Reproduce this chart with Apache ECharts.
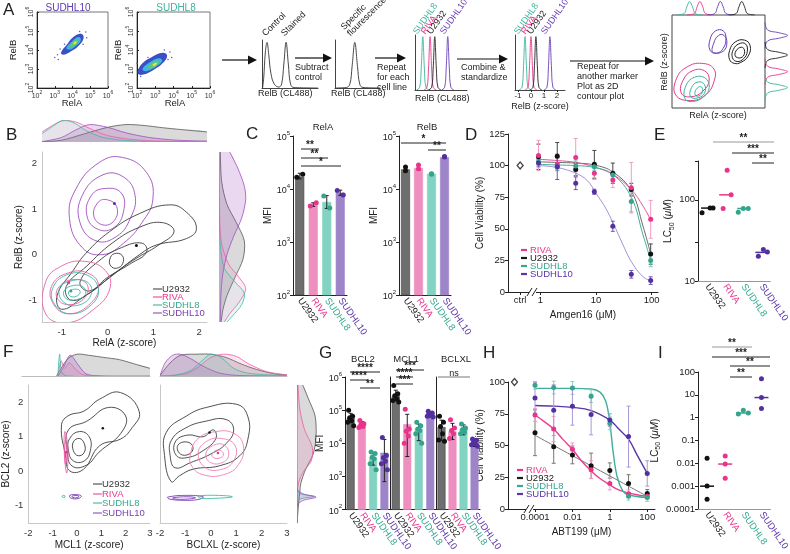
<!DOCTYPE html>
<html>
<head>
<meta charset="utf-8">
<script src="https://cdn.jsdelivr.net/npm/echarts@6/dist/echarts.min.js"></script>
<style>html,body{margin:0;padding:0;background:#fff}#chart{width:790px;height:554px}</style>
</head>
<body>
<div id="chart"></div>
<script>
// ---------------- data ----------------
const cellLines = ['U2932', 'RIVA', 'SUDHL8', 'SUDHL10'];

// A: flow density clouds (log10 RelA, log10 RelB), outer -> inner
const flowSUDHL10 = [
  [[3.35,3.85],[3.7,4.3],[4.1,4.72],[4.5,4.85],[4.62,4.6],[4.3,4.18],[3.9,3.92],[3.5,3.75]],
  [[3.65,4.1],[4.0,4.48],[4.35,4.68],[4.47,4.5],[4.15,4.18],[3.85,4.02]],
  [[3.85,4.22],[4.1,4.48],[4.32,4.55],[4.27,4.35],[4.02,4.18]],
  [[4.04,4.33],[4.15,4.45],[4.24,4.42],[4.13,4.3]]
];
const flowSUDHL10Sparse = [[3.0,3.6],[3.15,3.75],[3.3,4.05],[4.75,4.95],[4.8,4.65],[4.4,4.98],[3.55,4.3],[4.6,4.3],[3.2,3.5]];
const flowSUDHL8 = [
  [[2.05,2.9],[2.3,3.3],[2.8,3.62],[3.4,3.85],[3.65,3.7],[3.4,3.3],[2.9,2.95],[2.4,2.72],[2.08,2.72]],
  [[2.3,3.0],[2.7,3.35],[3.2,3.57],[3.38,3.42],[3.0,3.1],[2.5,2.88]],
  [[2.6,3.1],[2.9,3.36],[3.17,3.42],[3.12,3.2],[2.8,3.03]],
  [[2.85,3.2],[3.0,3.33],[3.1,3.3],[2.96,3.17]]
];
const flowSUDHL8Sparse = [[2.0,3.3],[3.8,3.9],[3.7,3.5],[2.2,2.6],[3.9,3.6],[2.6,3.6],[3.5,4.0]];

// A: schematic histograms
const histCtrlStained = [[1,0],[3,20],[6,75],[9,95],[12,70],[16,30],[22,8],[30,2],[35,8],[39,50],[43,95],[47,50],[51,8],[57,1],[100,0]];
const histSpecific = [[0,0],[25,1],[33,8],[38,45],[44,95],[50,45],[55,8],[62,1],[100,0]];
const histTeal = [[3,0],[9,5],[12,40],[15,97],[18,40],[21,5],[27,0]];
const histPink = [[17,0],[23,5],[26,40],[29,97],[32,40],[35,5],[41,0]];
const histBlack = [[26,0],[32,5],[35,40],[38,97],[41,40],[44,5],[50,0]];
const histPurple = [[51,0],[57,5],[60,40],[63,97],[66,40],[69,5],[75,0]];
const zTeal = [[-0.92,0],[-0.69,5],[-0.58,40],[-0.46,97],[-0.34,40],[-0.23,5],[0,0]];
const zPink = [[-0.46,0],[-0.23,5],[-0.12,40],[0,97],[0.12,40],[0.23,5],[0.46,0]];
const zBlack = [[-0.08,0],[0.15,5],[0.26,40],[0.38,97],[0.5,40],[0.61,5],[0.84,0]];
const zPurple = [[1.0,0],[1.23,5],[1.34,40],[1.46,97],[1.58,40],[1.69,5],[1.92,0]];
const zTicks = [-1, 0, 1, 2];

// A: schematic contour plot (0-100 units)
const scPurple = [[[41,62],[41,74],[47,83],[55,83],[58,75],[55,64],[48,59]], [[44,60],[45,70],[50,78],[56,78],[59,70],[55,61]]];
const scBlack = [[[62,52],[62,62],[68,71],[78,73],[84,67],[82,56],[74,49],[67,48]], [[65,54],[66,63],[72,69],[79,69],[81,61],[77,53],[70,50]], [[68,56],[70,63],[76,65],[78,59],[74,54]]];
const scPink = [[[4,14],[5,32],[16,44],[32,48],[45,42],[45,28],[36,14],[20,8]], [[10,16],[12,30],[22,40],[35,40],[40,30],[33,18],[20,12]]];
const scTeal = [[[14,10],[15,24],[24,33],[36,32],[40,22],[34,12],[22,7]], [[20,12],[21,22],[28,28],[35,25],[35,16],[28,11]], [[25,14],[26,20],[31,23],[33,18],[29,13]]];
const scTopTeal = [[5,0],[13,10],[16,55],[19,90],[22,55],[25,10],[33,0]];
const scTopPink = [[16,0],[24,10],[27,55],[30,90],[33,55],[36,10],[44,0]];
const scTopPurple = [[38,0],[46,10],[49,55],[52,90],[55,55],[58,10],[66,0]];
const scTopBlack = [[61,0],[69,10],[72,55],[75,90],[78,55],[81,10],[89,0]];
const scRightPurple = [[0,64],[10,72],[55,75],[90,78],[55,81],[10,84],[0,92]];
const scRightBlack = [[0,43],[10,51],[55,54],[90,57],[55,60],[10,63],[0,71]];
const scRightPink = [[0,25],[10,33],[55,36],[90,39],[55,42],[10,45],[0,53]];
const scRightTeal = [[0,8],[10,16],[55,19],[90,22],[55,25],[10,28],[0,36]];

// B: RelA / RelB z-score contours
const bU2932 = [
  [[-1.1,-0.9],[-0.75,-0.35],[-0.47,0.03],[0.04,0.5],[0.7,0.9],[1.36,1.09],[1.72,0.93],[1.94,0.57],[1.72,0.35],[1.07,0.21],[0.7,0.0],[0.04,-0.51],[-0.55,-0.95],[-1.0,-1.2]],
  [[-0.9,-0.7],[-0.45,-0.25],[0.1,0.25],[0.7,0.6],[1.2,0.7],[1.45,0.5],[1.1,0.2],[0.6,-0.1],[0.1,-0.45],[-0.4,-0.85],[-0.8,-1.0]],
  [[-0.6,-0.6],[-0.2,-0.15],[0.3,0.15],[0.75,0.25],[0.85,0.05],[0.5,-0.2],[0.0,-0.5],[-0.4,-0.8]],
  [[0.05,-0.1],[0.15,0.02],[0.32,-0.02],[0.33,-0.2],[0.2,-0.3],[0.07,-0.25]]
];
const bSUDHL10 = [
  [[-0.18,2.02],[0.33,2.13],[0.85,1.8],[0.99,1.22],[0.75,0.7],[0.35,0.25],[-0.1,0.0],[-0.55,0.15],[-0.83,0.79],[-0.69,1.44]],
  [[-0.1,1.75],[0.35,1.7],[0.6,1.3],[0.5,0.8],[0.2,0.4],[-0.25,0.3],[-0.6,0.7],[-0.55,1.3]],
  [[-0.05,1.45],[0.3,1.35],[0.35,0.95],[0.15,0.6],[-0.2,0.55],[-0.45,0.85],[-0.35,1.3]],
  [[0.0,1.2],[0.2,1.05],[0.15,0.75],[-0.1,0.65],[-0.3,0.85],[-0.2,1.15]]
];
const bRIVA = [
  [[-1.35,-0.6],[-1.0,-0.25],[-0.5,-0.15],[-0.05,-0.35],[0.05,-0.75],[-0.3,-1.2],[-0.9,-1.5],[-1.35,-1.3]],
  [[-1.2,-0.65],[-0.85,-0.4],[-0.45,-0.4],[-0.2,-0.65],[-0.35,-1.05],[-0.85,-1.3],[-1.2,-1.05]],
  [[-1.05,-0.7],[-0.75,-0.55],[-0.45,-0.65],[-0.5,-0.95],[-0.85,-1.1],[-1.1,-0.95]]
];
const bSUDHL8 = [
  [[-1.2,-0.75],[-0.9,-0.45],[-0.45,-0.45],[-0.2,-0.75],[-0.35,-1.1],[-0.8,-1.3],[-1.15,-1.1]],
  [[-1.05,-0.75],[-0.8,-0.58],[-0.45,-0.6],[-0.35,-0.85],[-0.6,-1.1],[-0.95,-1.05]],
  [[-0.95,-0.8],[-0.75,-0.68],[-0.52,-0.72],[-0.5,-0.9],[-0.75,-1.0],[-0.92,-0.95]],
  [[-0.85,-0.82],[-0.72,-0.76],[-0.6,-0.8],[-0.65,-0.9],[-0.8,-0.92]]
];
const bPeaks = [[0.63,0.2],[-0.85,-0.62],[-0.8,-0.8],[0.15,1.12]];
const bTopU2932 = [[-1.43,0.02],[-1,0.1],[-0.5,0.45],[0,0.8],[0.4,0.95],[0.8,0.9],[1.2,0.78],[1.6,0.68],[2.17,0.55]];
const bTopRIVA = [[-1.43,0.55],[-1.2,0.9],[-1.0,1.15],[-0.7,1.1],[-0.4,0.75],[0,0.35],[0.5,0.15],[1,0.06],[2.17,0.02]];
const bTopSUDHL8 = [[-1.43,0.45],[-1.2,0.85],[-0.95,1.2],[-0.7,1.0],[-0.45,0.6],[-0.1,0.25],[0.4,0.08],[1,0.03],[2.17,0.01]];
const bTopSUDHL10 = [[-1.43,0.02],[-1,0.25],[-0.7,0.65],[-0.4,0.95],[0,0.8],[0.4,0.5],[0.9,0.25],[1.5,0.1],[2.17,0.05]];
const bRightU2932 = [[0.05,2.25],[0.1,1.6],[0.3,1.1],[0.65,0.7],[0.95,0.3],[0.9,-0.1],[0.6,-0.5],[0.3,-0.9],[0.15,-1.2],[0.08,-1.48]];
const bRightRIVA = [[0,2.25],[0.02,1.0],[0.08,0.3],[0.35,-0.2],[0.75,-0.5],[1.0,-0.75],[0.75,-1.05],[0.4,-1.3],[0.2,-1.48]];
const bRightSUDHL8 = [[0,2.25],[0.01,1.0],[0.05,0.2],[0.2,-0.3],[0.6,-0.6],[0.95,-0.85],[0.85,-1.1],[0.5,-1.35],[0.3,-1.48]];
const bRightSUDHL10 = [[0.4,2.25],[0.7,1.9],[0.95,1.5],[1.0,1.2],[0.85,0.8],[0.55,0.4],[0.3,0.0],[0.15,-0.4],[0.08,-0.8],[0.05,-1.48]];

// C: MFI
const relAMeans = [17000, 5100, 5700, 8500];
const relAPoints = [[16600, 19000], [4800, 5500], [7400, 4400], [9400, 7700]];
const relAErr = [[15500, 19800], [4700, 5500], [4300, 7500], [7600, 9500]];
const relBMeans = [23500, 25000, 19500, 40000];
const relBPoints = [[26000, 22000], [28500, 24000], [19000, 19500], [40000, 41000]];
const relBErr = [[21500, 26500], [23000, 28500], [18800, 20200], [39000, 41500]];

// D: Amgen16 viability
const amgenDose = [0.92, 2, 4.3, 9.3, 20, 43, 96];
const amgenRIVA = [108, 101, 106.5, 94, 88.6, 82.5, 57.5];
const amgenRIVAErr = [12, 5, 15, 5, 6, 20, 15];
const amgenU2932 = [107, 107.3, 97, 101, 94, 81, 30];
const amgenU2932Err = [10, 11, 5, 11, 8, 5, 8];
const amgenSUDHL8 = [103, 99, 99.7, 99, 92.5, 71.5, 25];
const amgenSUDHL8Err = [3, 3, 4, 3, 3, 8, 5];
const amgenSUDHL10 = [102, 99, 86, 79.3, 52, 14, 9];
const amgenSUDHL10Err = [3, 10, 5, 2, 4, 3, 3];
const fitAmgenRIVA = [[0.92,105],[2,104],[4.3,102.5],[9.3,99],[20,93],[43,81],[70,68],[96,57]];
const fitAmgenU2932 = [[0.92,103],[2,102.5],[4.3,102],[9.3,100.5],[20,95],[43,80],[70,52],[96,30]];
const fitAmgenSUDHL8 = [[0.92,101],[2,100.5],[4.3,100],[9.3,98.5],[20,93],[43,75],[70,45],[96,25]];
const fitAmgenSUDHL10 = [[0.92,100],[2,98.5],[4.3,94],[7,88],[10,78],[15,66],[20,55],[30,38],[43,24],[70,12],[96,9]];
const amgenCtrl = 0.43;

// E: Amgen16 LC50
const lc50AmgenU2932 = [69, 79, 79];
const lc50AmgenRIVA = [78, 230, 115];
const lc50AmgenSUDHL8 = [70, 78, 78];
const lc50AmgenSUDHL10 = [20.2, 24.4, 22.8];
const lc50AmgenMedian = [79, 115, 78, 22.5];

// F: BCL2 vs MCL1 / BCLXL contours
const fMclU2932 = [
  [[-0.64,1.31],[-0.38,1.6],[0.3,1.75],[0.93,2.09],[1.79,2.28],[2.56,1.72],[2.2,1.2],[1.78,0.93],[0.93,0.74],[0.27,0.06],[-0.3,0.01],[-0.47,0.45]],
  [[-0.35,1.2],[0.4,1.45],[1.3,1.85],[2.0,1.6],[1.8,1.1],[0.9,0.55],[0.4,0.18],[-0.2,0.15],[-0.4,0.6]],
  [[-0.3,0.95],[0.1,1.15],[0.5,1.0],[0.55,0.6],[0.3,0.3],[-0.15,0.3],[-0.35,0.6]],
  [[-0.15,0.85],[0.1,0.95],[0.3,0.8],[0.3,0.55],[0.05,0.45],[-0.15,0.6]]
];
const fMclRIVA = [[[-0.5,1.15],[-0.38,0.7],[-0.42,-0.05],[-0.52,0.5]], [[-0.47,0.9],[-0.42,0.5],[-0.47,0.2],[-0.5,0.55]]];
const fMclSUDHL10 = [[[-0.3,-0.7],[0.0,-0.68],[0.18,-0.72],[0.05,-0.79],[-0.25,-0.78]], [[-0.2,-0.72],[0.05,-0.71],[0.05,-0.76],[-0.18,-0.76]]];
const fMclSUDHL8 = [[[-0.6,-0.71],[-0.5,-0.71],[-0.5,-0.75],[-0.6,-0.75]]];
const fMclPeaks = [[1.06,1.25],[-0.45,0.55]];
const fXlU2932 = [
  [[-1.75,1.13],[-0.96,1.6],[-0.17,1.85],[1.02,1.94],[1.46,1.58],[1.46,0.93],[1.14,0.45],[0.35,0.16],[-0.7,0.06],[-1.23,-0.13],[-1.56,-0.3],[-1.82,0.45]],
  [[-1.55,0.9],[-1.0,1.25],[-0.2,1.45],[0.6,1.5],[0.9,1.2],[0.6,0.8],[0.0,0.5],[-0.8,0.25],[-1.4,0.1],[-1.6,0.45]],
  [[-1.4,0.85],[-0.9,1.05],[-0.3,1.0],[0.1,1.2],[0.2,0.95],[-0.3,0.6],[-0.9,0.4],[-1.35,0.45]],
  [[-1.3,0.75],[-0.95,0.85],[-0.7,0.7],[-0.85,0.5],[-1.2,0.5]]
];
const fXlRIVA = [
  [[-0.8,0.5],[-0.5,0.95],[0.2,1.15],[0.9,1.1],[1.28,0.75],[1.1,0.2],[0.5,-0.1],[-0.3,-0.1],[-0.75,0.15]],
  [[-0.5,0.5],[-0.2,0.85],[0.4,0.95],[0.95,0.75],[0.9,0.3],[0.4,0.05],[-0.2,0.1]],
  [[-0.2,0.5],[0.1,0.75],[0.55,0.75],[0.7,0.45],[0.45,0.25],[0.0,0.25]],
  [[0.05,0.5],[0.3,0.62],[0.5,0.5],[0.35,0.38],[0.1,0.4]]
];
const fXlSUDHL10 = [[[-1.7,-0.75],[-1.0,-0.7],[-0.3,-0.74],[-0.5,-0.82],[-1.2,-0.84],[-1.65,-0.8]], [[-1.5,-0.77],[-0.9,-0.74],[-0.6,-0.77],[-1.0,-0.81],[-1.45,-0.8]]];
const fXlSUDHL8 = [[[-0.5,-0.72],[0.3,-0.7],[0.85,-0.74],[0.3,-0.78],[-0.4,-0.78]]];
const fXlPeaks = [[-0.05,1.12],[0.28,0.53]];
const fTopMclU2932 = [[-0.65,0],[-0.5,0.3],[-0.2,0.8],[0.15,1.0],[0.6,0.95],[1.2,0.85],[1.8,0.75],[2.4,0.55],[3,0.35]];
const fTopMclRIVA = [[-0.6,0],[-0.47,0.7],[-0.35,0.35],[-0.15,0.6],[0.1,0.3],[0.4,0.05],[1,0]];
const fTopMclSUDHL8 = [[-0.6,0],[-0.53,1.0],[-0.46,0.2],[-0.3,0.02],[0,0]];
const fTopMclSUDHL10 = [[-0.6,0],[-0.4,0.35],[-0.12,0.95],[0.2,0.5],[0.5,0.1],[1,0.01],[3,0]];
const fTopXlU2932 = [[-2,0.02],[-1.6,0.6],[-1.2,0.95],[-0.5,1.0],[0,1.0],[0.6,0.85],[1.2,0.55],[1.8,0.3],[2.5,0.1],[3,0.05]];
const fTopXlRIVA = [[-2,0],[-1,0.1],[-0.5,0.4],[0,0.85],[0.5,1.0],[1,0.9],[1.5,0.55],[2.2,0.2],[3,0.05]];
const fTopXlSUDHL8 = [[-2,0],[-1.5,0.02],[-0.8,0.25],[-0.3,0.75],[0,1.0],[0.4,0.85],[0.9,0.35],[1.5,0.12],[3,0.02]];
const fTopXlSUDHL10 = [[-2,0],[-1.8,0.6],[-1.5,0.95],[-1.2,1.0],[-0.8,0.8],[-0.3,0.45],[0.3,0.15],[1,0.03],[3,0]];
const fRightU2932 = [[0.3,2.5],[0.6,2.1],[0.95,1.6],[1.0,1.0],[0.85,0.5],[0.45,0.05],[0.2,-0.35],[0.15,-0.6],[0.1,-0.85],[0,-1.5]];
const fRightRIVA = [[0.05,2.5],[0.15,1.8],[0.4,1.2],[0.8,0.7],[0.75,0.3],[0.35,0.0],[0.1,-0.3],[0.02,-0.6],[0,-1.5]];
const fRightSUDHL8 = [[0,2.5],[0,-0.5],[0.2,-0.65],[0.9,-0.73],[0.2,-0.8],[0,-0.95],[0,-1.5]];
const fRightSUDHL10 = [[0,2.5],[0,-0.5],[0.3,-0.65],[1.0,-0.75],[0.3,-0.85],[0,-1.0],[0,-1.5]];

// G: BCL2 family MFI
const bcl2Means = [57000, 37000, 3700, 5200];
const bcl2Err = [[42000, 80000], [30000, 45000], [2200, 5000], [700, 13000]];
const bcl2Points = [[100000, 66000, 59000, 48000, 43000, 34000], [49000, 39000, 36000, 32000, 30000], [5500, 4900, 3800, 3400, 2400, 1600], [15000, 4300, 3700, 2900, 2400, 1600]];
const mcl1Means = [270000, 38000, 28000, 85000];
const mcl1Err = [[190000, 400000], [4000, 75000], [12000, 38000], [62000, 90000]];
const mcl1Points = [[550000, 310000, 270000, 220000, 195000, 175000], [107000, 27000, 23000, 16500, 10000], [43000, 34000, 27000, 24500, 19500, 10000], [92000, 82000, 77000, 74000, 66000, 62000]];
const bclxlMeans = [31000, 23000, 27000, 10000];
const bclxlErr = [[12000, 50000], [13000, 40000], [18000, 36000], [8000, 12500]];
const bclxlPoints = [[66000, 43000, 32000, 19500, 12600, 11500], [51000, 29000, 24500, 19500, 14000], [38000, 29000, 26000, 22000, 19500], [13500, 12400, 10500, 9600, 9000, 8200]];

// H: ABT199 viability
const abtDose = [0.0001, 0.001, 0.01, 0.1, 1, 10, 100];
const abtRIVA = [74, 63, 47, 31, 20, 12, 10];
const abtRIVAErr = [5, 10, 5, 7, 5, 3, 2];
const abtU2932 = [60, 49, 42.6, 34, 30.3, 20, 12.3];
const abtU2932Err = [18, 13, 7, 10, 6, 7, 3];
const abtSUDHL8 = [97.4, 95.6, 95.3, 88.8, 67.4, 10, 9];
const abtSUDHL8Err = [3, 5, 5, 5, 5, 3, 3];
const abtSUDHL10 = [87.5, 77.8, 81, 74.4, 70, 57, 28];
const abtSUDHL10Err = [12, 20, 15, 16, 5, 24, 10];
const fitAbtRIVA = [[0.0001,74],[0.0003,69],[0.001,63],[0.003,55],[0.01,47],[0.03,38],[0.1,30],[0.3,24],[1,19],[3,15],[10,12.5],[100,10]];
const fitAbtU2932 = [[0.0001,58],[0.001,50],[0.01,42],[0.1,34],[1,26],[10,18],[100,10]];
const fitAbtSUDHL8 = [[0.0001,95],[0.01,95],[0.1,94.5],[0.3,92],[0.6,85],[1,68],[1.5,45],[2.5,25],[5,14],[10,11],[100,9]];
const fitAbtSUDHL10 = [[0.0001,81.5],[0.001,81],[0.01,80],[0.1,77.5],[1,70],[3,63],[10,55],[30,42],[100,28]];
const abtCtrl = 0.000008;

// I: ABT199 LC50
const lc50AbtU2932 = [0.0166, 0.00102, 0.00027];
const lc50AbtRIVA = [0.021, 0.0093, 0.0022];
const lc50AbtSUDHL8 = [1.43, 2.1, 1.6];
const lc50AbtSUDHL10 = [51, 7.6, 2.5];
const lc50AbtMedian = [0.001, 0.0093, 1.6, 7.6];

// ---------------- styles ----------------
const FONT = 'Liberation Sans, Arial, sans-serif';
const TXT = ['#1a1a1a', '#e8348a', '#35a88f', '#5a34a8'];
const BAR = ['#6e6e6e', '#ee8fc0', '#82d3c1', '#9e85c9'];
const DOT = ['#111111', '#e8348a', '#34a58c', '#54309f'];
const FIT = ['#6a6a6a', '#ee4f98', '#3fae98', '#a394d8'];
const ERR = ['#444444', '#f29ac4', '#77c8b6', '#6a55b5'];
const CONT = ['#3c3c3c', '#ec5ea8', '#40b8a2', '#a14dbf'];
const LEG2 = ['#333333', '#e8348a', '#35a88f', '#7b3db0'];

function merge(a, b) {
  const o = Object.assign({}, a);
  for (const k in b) {
    const v = b[k];
    o[k] = (v && typeof v === 'object' && !Array.isArray(v) && a[k] && typeof a[k] === 'object') ? merge(a[k], v) : v;
  }
  return o;
}
function ax(o) {
  return merge({
    axisLine: { show: true, onZero: false, lineStyle: { color: '#222', width: 1 } },
    axisTick: { show: true, length: 3, lineStyle: { color: '#222', width: 1 } },
    axisLabel: { show: true, fontSize: 9, color: '#222', fontFamily: FONT, margin: 3 },
    splitLine: { show: false },
    nameTextStyle: { fontSize: 10, color: '#222', fontFamily: FONT }
  }, o);
}
const hid = (min, max) => ({ type: 'value', min: min, max: max, show: false });
const supRich = { b: { fontSize: 9, lineHeight: 12, verticalAlign: 'bottom', fontFamily: FONT, color: '#222' }, s: { fontSize: 6, lineHeight: 12, verticalAlign: 'top', fontFamily: FONT, color: '#222', padding: [0, 0, 0, 0] } };
const pow10 = v => '{b|10}{s|' + Math.round(Math.log10(v)) + '}';
const catColor = (v, i) => TXT[i % 4];

const grids = [], xAxes = [], yAxes = [], series = [], graphics = [];
function grid(rect, xa, ya, extra) {
  const i = grids.length;
  grids.push(Object.assign({ left: rect[0], top: rect[1], width: rect[2], height: rect[3] }, extra || {}));
  xAxes.push(Object.assign({ gridIndex: i }, xa));
  yAxes.push(Object.assign({ gridIndex: i }, ya));
  return i;
}

// ---------------- series helpers ----------------
function polygons(gi, rings, color, fill, width) {
  series.push({ type: 'custom', xAxisIndex: gi, yAxisIndex: gi, silent: true, clip: true, z: 3,
    data: rings.map((r, i) => [i]),
    renderItem: (p, api) => {
      const ring = rings[p.dataIndex];
      return { type: 'polygon', shape: { points: ring.map(q => api.coord(q)), smooth: 0.45 },
        style: fill ? { fill: color, stroke: null } : { fill: null, stroke: color, lineWidth: width || 0.9 } };
    } });
}
function density(gi, pts, color, alpha, vertical) {
  series.push({ type: 'custom', xAxisIndex: gi, yAxisIndex: gi, silent: true, clip: true, z: 3, data: [[0]],
    renderItem: (p, api) => {
      const first = pts[0], last = pts[pts.length - 1];
      const close = vertical ? [[0, last[1]], [0, first[1]]] : [[last[0], 0], [first[0], 0]];
      const line = pts.map(q => api.coord(q));
      return { type: 'group', children: [
        { type: 'polygon', shape: { points: line.concat(close.map(q => api.coord(q))), smooth: 0.3 }, style: { fill: echarts.color.modifyAlpha(color, alpha), stroke: null } },
        { type: 'polyline', shape: { points: line, smooth: 0.3 }, style: { fill: null, stroke: color, lineWidth: 0.8 } }
      ] };
    } });
}
function curve(gi, pts, color, width) {
  series.push({ type: 'line', xAxisIndex: gi, yAxisIndex: gi, data: pts, smooth: 0.4, symbol: 'none', silent: true, z: 3,
    lineStyle: { color: color, width: width || 1 } });
}
function dots(gi, pts, color, size, symbol, extra) {
  series.push(Object.assign({ type: 'scatter', xAxisIndex: gi, yAxisIndex: gi, data: pts, symbol: symbol || 'circle',
    symbolSize: size, silent: true, z: 5, itemStyle: { color: color, opacity: 1 } }, extra || {}));
}
function errBars(gi, items, color, cap) {
  series.push({ type: 'custom', xAxisIndex: gi, yAxisIndex: gi, silent: true, z: 4, data: items,
    encode: { x: 0, y: [1, 2] },
    renderItem: (p, api) => {
      const x = api.value(0), lo = api.coord([x, api.value(1)]), hi = api.coord([x, api.value(2)]);
      const w = cap / 2, st = { stroke: color, lineWidth: 1 };
      return { type: 'group', children: [
        { type: 'line', shape: { x1: lo[0], y1: lo[1], x2: hi[0], y2: hi[1] }, style: st },
        { type: 'line', shape: { x1: lo[0] - w, y1: lo[1], x2: lo[0] + w, y2: lo[1] }, style: st },
        { type: 'line', shape: { x1: hi[0] - w, y1: hi[1], x2: hi[0] + w, y2: hi[1] }, style: st }
      ] };
    } });
}
function medians(gi, values, half) {
  series.push({ type: 'custom', xAxisIndex: gi, yAxisIndex: gi, silent: true, z: 4,
    data: values.map((v, i) => [i, v]),
    renderItem: (p, api) => {
      const c = api.coord([api.value(0), api.value(1)]);
      return { type: 'line', shape: { x1: c[0] - half, y1: c[1], x2: c[0] + half, y2: c[1] }, style: { stroke: DOT[p.dataIndex], lineWidth: 1.5 } };
    } });
}

// ---------------- graphic helpers ----------------
function txt(x, y, text, o) {
  o = o || {};
  const st = { text: text, x: 0, y: 0, fill: o.color || '#222', fontSize: o.size || 9, fontFamily: FONT,
    fontWeight: o.weight || 'normal', align: o.align || 'left', verticalAlign: o.va || 'middle' };
  if (o.lh) st.lineHeight = o.lh;
  if (o.rich) st.rich = o.rich;
  graphics.push({ type: 'text', x: x, y: y, rotation: o.rot || 0, z: 100, silent: true, style: st });
}
function seg(x1, y1, x2, y2, color, w) {
  graphics.push({ type: 'line', z: 100, silent: true, shape: { x1: x1, y1: y1, x2: x2, y2: y2 }, style: { stroke: color || '#222', lineWidth: w || 1 } });
}
function arrow(x1, x2, y) {
  seg(x1, y, x2 - 6, y, '#111', 1.2);
  graphics.push({ type: 'polygon', z: 100, silent: true, shape: { points: [[x2 - 9, y - 4.5], [x2, y], [x2 - 9, y + 4.5]] }, style: { fill: '#111' } });
}
function sig(x1, x2, y, stars, color) {
  seg(x1, y, x2, y, color || '#222', 1);
  txt((x1 + x2) / 2, y + 1, stars, { align: 'center', va: 'bottom', size: stars === 'ns' ? 9 : 10, weight: stars === 'ns' ? 'normal' : 'bold', color: '#222' });
}
function legend(x, ys, colors, thick) {
  cellLines.forEach((n, k) => {
    const i = thick ? [1, 0, 2, 3][k] : k;
    seg(x, ys[k], x + (thick ? 6 : 9), ys[k], colors[i], thick ? 2.2 : 1);
    txt(x + 9, ys[k], cellLines[i], { color: colors[i], size: 9.5 });
  });
}
function axisBreak(x, y) {
  graphics.push({ type: 'rect', z: 99, silent: true, shape: { x: x, y: y - 3, width: 7, height: 6 }, style: { fill: '#fff' } });
  seg(x - 2, y + 4, x + 3, y - 4, '#222', 1);
  seg(x + 3, y + 4, x + 8, y - 4, '#222', 1);
}

// ================= Panel A =================
const flowColors = ['#3d4fc4', '#3cb6e3', '#63c86b', '#f0e236'];
const flowAx = (rot) => ax({ type: 'value', min: 2, max: 6, interval: 1, axisTick: { inside: true, length: 2 },
  axisLabel: { fontSize: 7, margin: 2, rotate: rot, formatter: v => '{b|10}{s|' + v + '}',
    rich: { b: { fontSize: 7, lineHeight: 10, verticalAlign: 'bottom', fontFamily: FONT, color: '#333' }, s: { fontSize: 5, lineHeight: 10, verticalAlign: 'top', fontFamily: FONT, color: '#333' } } } });
const gA1 = grid([37, 12, 71, 76], flowAx(0), flowAx(90), { show: true, borderColor: '#777', borderWidth: 1 });
const gA2 = grid([137, 12, 73, 76], flowAx(0), flowAx(90), { show: true, borderColor: '#777', borderWidth: 1 });
dots(gA1, flowSUDHL10Sparse, '#4a5cd0', 1.5);
dots(gA2, flowSUDHL8Sparse, '#4a5cd0', 1.5);
flowSUDHL10.forEach((r, i) => polygons(gA1, [r], flowColors[i], true));
flowSUDHL8.forEach((r, i) => polygons(gA2, [r], flowColors[i], true));

const histAx = (min, max) => ax({ type: 'value', min: min, max: max, axisTick: { show: false }, axisLabel: { show: false }, axisLine: { lineStyle: { color: '#444' } } });
const gH1 = grid([262, 40, 56, 48], histAx(0, 100), histAx(0, 100));
const gH2 = grid([335, 40, 45, 48], histAx(0, 100), histAx(0, 100));
const gH3 = grid([415, 35, 52, 55], histAx(0, 100), histAx(0, 100));
const gH4 = grid([515, 35, 50, 55],
  ax({ type: 'value', min: -1.23, max: 2.62, axisLine: { lineStyle: { color: '#444' } }, axisTick: { length: 2, customValues: zTicks }, axisLabel: { fontSize: 8, margin: 2, customValues: zTicks } }),
  histAx(0, 100));
curve(gH1, histCtrlStained, '#333', 0.9);
curve(gH2, histSpecific, '#333', 0.9);
[[histTeal, '#3fb39d'], [histPink, '#e8378c'], [histBlack, '#222'], [histPurple, '#6a3fb5']].forEach(h => curve(gH3, h[0], h[1], 0.9));
[[zTeal, '#3fb39d'], [zPink, '#e8378c'], [zBlack, '#222'], [zPurple, '#6a3fb5']].forEach(h => curve(gH4, h[0], h[1], 0.9));

const gSc = grid([672, 15, 93, 93], hid(0, 100), hid(0, 100), { show: true, borderColor: '#444', borderWidth: 1 });
const gScT = grid([672, 0, 93, 15], hid(0, 100), hid(0, 100));
const gScR = grid([765, 15, 25, 93], hid(0, 100), hid(0, 100));
polygons(gSc, scPurple, '#6a3fb5', false, 1);
polygons(gSc, scBlack, '#222', false, 1);
polygons(gSc, scPink, '#e8378c', false, 1);
polygons(gSc, scTeal, '#3fb39d', false, 1);
[[scTopTeal, '#3fb39d'], [scTopPink, '#e8378c'], [scTopPurple, '#6a3fb5'], [scTopBlack, '#222']].forEach(h => curve(gScT, h[0], h[1], 0.9));
[[scRightPurple, '#6a3fb5'], [scRightBlack, '#222'], [scRightPink, '#e8378c'], [scRightTeal, '#3fb39d']].forEach(h => curve(gScR, h[0], h[1], 0.9));

// ================= Panel B =================
const bTicks = [-1, 0, 1, 2];
const zAx = (min, max, ticks, name, gap) => ax({ type: 'value', min: min, max: max, name: name, nameLocation: 'middle', nameGap: gap,
  axisLine: { lineStyle: { color: '#c8c8c8' } }, axisTick: { show: false }, axisLabel: { customValues: ticks, color: '#333', margin: 5, fontSize: 9.5 } });
const gB = grid([42, 152, 165, 170], zAx(-1.43, 2.17, bTicks, 'RelA (z-score)', 15), zAx(-1.48, 2.25, bTicks, 'RelB (z-score)', 16));
const gBT = grid([42, 120, 165, 22], hid(-1.43, 2.17), hid(0, 1.2));
const gBR = grid([219, 152, 28, 170], hid(0, 1.05), hid(-1.48, 2.25));
polygons(gB, bSUDHL10, CONT[3], false, 0.9);
polygons(gB, bU2932, CONT[0], false, 0.9);
polygons(gB, bRIVA, CONT[1], false, 0.9);
polygons(gB, bSUDHL8, CONT[2], false, 0.9);
bPeaks.forEach((p, i) => dots(gB, [p], DOT[i], 3));
density(gBT, bTopU2932, '#555555', 0.22, false);
density(gBT, bTopSUDHL10, CONT[3], 0.22, false);
density(gBT, bTopRIVA, CONT[1], 0.12, false);
density(gBT, bTopSUDHL8, CONT[2], 0.12, false);
density(gBR, bRightU2932, '#555555', 0.22, true);
density(gBR, bRightSUDHL10, CONT[3], 0.22, true);
density(gBR, bRightRIVA, CONT[1], 0.12, true);
density(gBR, bRightSUDHL8, CONT[2], 0.12, true);

// ================= Panel C =================
const mfiTicks = [100, 1000, 10000, 100000];
const catAx = (extra) => ax(merge({ type: 'category', data: cellLines, axisTick: { show: false },
  axisLabel: { rotate: -55, interval: 0, fontSize: 9.5, margin: 4, color: catColor } }, extra || {}));
const logAx = (min, max, ticks, extra) => ax(merge({ type: 'log', logBase: 10, min: min, max: max,
  axisTick: { customValues: ticks }, axisLabel: { customValues: ticks, formatter: pow10, rich: supRich, margin: 3 } }, extra || {}));
function barPanel(gi, means, err, points, barW, offsets) {
  series.push({ type: 'bar', xAxisIndex: gi, yAxisIndex: gi, barWidth: barW, silent: true, z: 2,
    data: means.map((v, i) => ({ value: v, itemStyle: { color: BAR[i], borderColor: i === 0 ? '#444' : BAR[i], borderWidth: 0.6 } })) });
  errBars(gi, err.map((e, i) => [i, e[0], e[1]]), '#222', 4);
  const pts = [];
  points.forEach((arr, i) => arr.forEach((v, k) => pts.push({ value: [i, v], symbolOffset: [offsets[k % offsets.length], 0], itemStyle: { color: DOT[i] } })));
  dots(gi, pts, '#000', 5);
}
const gC1 = grid([293, 136, 54, 159], catAx(), logAx(100, 100000, mfiTicks, { name: 'MFI', nameLocation: 'middle', nameGap: 17 }));
const gC2 = grid([399, 136, 52, 159], catAx(), logAx(100, 100000, mfiTicks, { name: 'MFI', nameLocation: 'middle', nameGap: 17 }));
barPanel(gC1, relAMeans, relAErr, relAPoints, 9, [-3, 3]);
barPanel(gC2, relBMeans, relBErr, relBPoints, 9, [0, 0]);

// ================= Panel D =================
const dTicks = [amgenCtrl, 1, 10, 100];
const doseLabel = v => (v < 0.5 ? 'ctrl' : String(Math.round(v)));
const gD = grid([508, 134, 150, 158],
  ax({ type: 'log', logBase: 10, min: 0.26, max: 130, name: 'Amgen16 (μM)', nameLocation: 'middle', nameGap: 18,
    axisTick: { customValues: dTicks }, axisLabel: { customValues: dTicks, formatter: doseLabel, fontSize: 9.5 } }),
  ax({ type: 'value', min: 0, max: 125, interval: 25, name: 'Cell Viability (%)', nameLocation: 'middle', nameGap: 22,
    axisLabel: { fontSize: 9.5 } }));
const amgenSets = [[amgenU2932, amgenU2932Err, fitAmgenU2932], [amgenRIVA, amgenRIVAErr, fitAmgenRIVA], [amgenSUDHL8, amgenSUDHL8Err, fitAmgenSUDHL8], [amgenSUDHL10, amgenSUDHL10Err, fitAmgenSUDHL10]];
amgenSets.forEach((s, i) => {
  curve(gD, s[2], FIT[i], 1);
  errBars(gD, amgenDose.map((d, k) => [d, s[0][k] - s[1][k], s[0][k] + s[1][k]]), ERR[i], 4);
  dots(gD, amgenDose.map((d, k) => [d, s[0][k]]), DOT[i], 5);
});
dots(gD, [[amgenCtrl, 100]], '#fff', [6, 7], 'diamond', { itemStyle: { color: '#fff', borderColor: '#111', borderWidth: 1.3 } });

// ================= Panel E =================
const eTicks = [10, 30, 100, 300];
const lcName = 'LC{s|50} ({i|μM})';
const lcRich = { s: { fontSize: 7, verticalAlign: 'bottom', lineHeight: 14, fontFamily: FONT, color: '#222' }, i: { fontStyle: 'italic', fontSize: 10, fontFamily: FONT, color: '#222' } };
const gE = grid([698, 161, 86, 120],
  catAx({ axisLine: { lineStyle: { color: '#999' } } }),
  ax({ type: 'log', logBase: 10, min: 10, max: 300, name: lcName, nameLocation: 'middle', nameGap: 22,
    nameTextStyle: { rich: lcRich }, axisTick: { customValues: eTicks }, axisLabel: { customValues: [10, 100], fontSize: 9.5 } }));
function lcDots(gi, sets, offsets) {
  const pts = [];
  sets.forEach((arr, i) => arr.forEach((v, k) => pts.push({ value: [i, v], symbolOffset: [offsets[i][k], 0], itemStyle: { color: DOT[i] } })));
  dots(gi, pts, '#000', 5);
}
medians(gE, lc50AmgenMedian, 6);
lcDots(gE, [lc50AmgenU2932, lc50AmgenRIVA, lc50AmgenSUDHL8, lc50AmgenSUDHL10], [[-5, 3, 6], [-2, 2, 6], [-5, 0, 5], [-3, 2, 6]]);

// ================= Panel F =================
const fTicks = [-1, 0, 1, 2];
const fX = (name) => ax({ type: 'value', min: -2, max: 3, interval: 1, name: name, nameLocation: 'middle', nameGap: 17,
  axisLine: { lineStyle: { color: '#c8c8c8' } }, axisTick: { show: false }, axisLabel: { color: '#333', margin: 5, fontSize: 9.5 } });
const gFA = grid([22, 385, 128, 138], fX('MCL1 (z-score)'),
  ax({ type: 'value', min: -1.5, max: 2.5, name: 'BCL2 (z-score)', nameLocation: 'middle', nameGap: 13,
    axisLine: { lineStyle: { color: '#c8c8c8' } }, axisTick: { show: false }, axisLabel: { customValues: fTicks, color: '#333', margin: 5, fontSize: 9.5 } }));
const gFB = grid([160, 385, 127, 138], fX('BCLXL (z-score)'),
  ax({ type: 'value', min: -1.5, max: 2.5, axisLine: { lineStyle: { color: '#c8c8c8' } }, axisTick: { show: false }, axisLabel: { show: false } }));
const gFTA = grid([22, 352, 128, 24], ax({ type: 'value', min: -2, max: 3, axisLine: { lineStyle: { color: '#bbb' } }, axisTick: { show: false }, axisLabel: { show: false } }), hid(0, 1.1));
const gFTB = grid([160, 352, 127, 24], ax({ type: 'value', min: -2, max: 3, axisLine: { lineStyle: { color: '#bbb' } }, axisTick: { show: false }, axisLabel: { show: false } }), hid(0, 1.1));
const gFR = grid([297, 385, 20, 138], hid(0, 1.05), ax({ type: 'value', min: -1.5, max: 2.5, axisLine: { lineStyle: { color: '#ccc' } }, axisTick: { show: false }, axisLabel: { show: false } }));
polygons(gFA, fMclU2932, CONT[0], false, 0.9);
polygons(gFA, fMclRIVA, CONT[1], false, 0.9);
polygons(gFA, fMclSUDHL10, '#7a3bb5', false, 0.9);
polygons(gFA, fMclSUDHL8, CONT[2], false, 0.9);
dots(gFA, [fMclPeaks[0]], DOT[0], 2.5);
dots(gFA, [fMclPeaks[1]], DOT[1], 2.5);
polygons(gFB, fXlU2932, CONT[0], false, 0.9);
polygons(gFB, fXlRIVA, '#ef7fb8', false, 0.9);
polygons(gFB, fXlSUDHL10, '#7a3bb5', false, 0.9);
polygons(gFB, fXlSUDHL8, CONT[2], false, 0.9);
dots(gFB, [fXlPeaks[0]], DOT[0], 2.5);
dots(gFB, [fXlPeaks[1]], DOT[1], 2.5);
density(gFTA, fTopMclU2932, '#555555', 0.22, false);
density(gFTA, fTopMclSUDHL10, CONT[3], 0.22, false);
density(gFTA, fTopMclRIVA, CONT[1], 0.15, false);
density(gFTA, fTopMclSUDHL8, CONT[2], 0.15, false);
density(gFTB, fTopXlU2932, '#555555', 0.22, false);
density(gFTB, fTopXlSUDHL10, CONT[3], 0.22, false);
density(gFTB, fTopXlRIVA, CONT[1], 0.15, false);
density(gFTB, fTopXlSUDHL8, CONT[2], 0.15, false);
density(gFR, fRightU2932, '#555555', 0.22, true);
density(gFR, fRightRIVA, CONT[1], 0.15, true);
density(gFR, fRightSUDHL8, CONT[2], 0.2, true);
density(gFR, fRightSUDHL10, CONT[3], 0.2, true);

// ================= Panel G =================
const gTicks = [100, 1000, 10000, 100000, 1000000];
const gG1 = grid([345, 377, 45, 139], catAx({ axisLabel: { fontSize: 9.5 } }), logAx(100, 1000000, gTicks, { name: 'MFI', nameLocation: 'middle', nameGap: 17 }));
const gG2 = grid([390, 377, 46, 139], catAx({ axisLabel: { fontSize: 9.5 } }), ax({ type: 'log', min: 100, max: 1000000, axisTick: { show: false }, axisLabel: { show: false } }));
const gG3 = grid([436, 377, 44, 139], catAx({ axisLabel: { fontSize: 9.5 } }), ax({ type: 'log', min: 100, max: 1000000, axisTick: { show: false }, axisLabel: { show: false } }));
const gOff = [-2, 2, -1, 1, -3, 3];
barPanel(gG1, bcl2Means, bcl2Err, bcl2Points, 8, gOff);
barPanel(gG2, mcl1Means, mcl1Err, mcl1Points, 8, gOff);
barPanel(gG3, bclxlMeans, bclxlErr, bclxlPoints, 8, gOff);

// ================= Panel H =================
const hTicks = [abtCtrl, 0.0001, 0.01, 1, 100];
const abtLabel = v => { const e = Math.round(Math.log10(v)); return v < 0.00005 ? 'ctrl' : ({ '-4': '0.0001', '-2': '0.01', '0': '1', '2': '100' })[e]; };
const gHp = grid([508, 382, 147, 127],
  ax({ type: 'log', logBase: 10, min: 0.0000036, max: 260, name: 'ABT199 (μM)', nameLocation: 'middle', nameGap: 18,
    axisTick: { customValues: hTicks }, axisLabel: { customValues: hTicks, formatter: abtLabel, fontSize: 9.5 } }),
  ax({ type: 'value', min: 0, max: 100, interval: 25, name: 'Cell Viability (%)', nameLocation: 'middle', nameGap: 22, axisLabel: { fontSize: 9.5 } }));
const abtSets = [[abtU2932, abtU2932Err, fitAbtU2932], [abtRIVA, abtRIVAErr, fitAbtRIVA], [abtSUDHL8, abtSUDHL8Err, fitAbtSUDHL8], [abtSUDHL10, abtSUDHL10Err, fitAbtSUDHL10]];
const hFit = ['#777777', '#ee3d8e', '#3fae98', '#5a36a8'];
const hErr = ['#777777', '#f29ac4', '#8fd0c0', '#a898d8'];
abtSets.forEach((s, i) => {
  curve(gHp, s[2], hFit[i], i === 0 ? 1 : 1.4);
  errBars(gHp, abtDose.map((d, k) => [d, s[0][k] - s[1][k], s[0][k] + s[1][k]]), hErr[i], 4);
  dots(gHp, abtDose.map((d, k) => [d, s[0][k]]), DOT[i], 5);
});
dots(gHp, [[abtCtrl, 100]], '#fff', [6, 7], 'diamond', { itemStyle: { color: '#fff', borderColor: '#111', borderWidth: 1.3 } });

// ================= Panel I =================
const iTicks = [0.0001, 0.001, 0.01, 0.1, 1, 10, 100];
const iLabel = v => ['0.0001', '0.001', '0.01', '0.1', '1', '10', '100'][Math.round(Math.log10(v)) + 4];
const gI = grid([698, 372, 87, 137],
  catAx({ axisLine: { lineStyle: { color: '#999' } } }),
  ax({ type: 'log', logBase: 10, min: 0.0001, max: 100, name: lcName, nameLocation: 'middle', nameGap: 31,
    nameTextStyle: { rich: lcRich }, axisTick: { customValues: iTicks }, axisLabel: { customValues: iTicks, formatter: iLabel, fontSize: 9.5 } }));
medians(gI, lc50AbtMedian, 7);
lcDots(gI, [lc50AbtU2932, lc50AbtRIVA, lc50AbtSUDHL8, lc50AbtSUDHL10], [[0, 0, 0], [0, 0, 0], [-5, 0, 5], [0, 0, 0]]);

// ---------------- annotations ----------------
['A', 'B', 'C', 'D', 'E', 'F', 'G', 'H', 'I'].forEach((l, i) => {
  const pos = [[3, 10], [6, 135], [246, 134], [465, 135], [654, 135], [3, 352], [319, 353], [483, 353], [658, 353]][i];
  txt(pos[0], pos[1], l, { size: 17 });
});
txt(68, 8, 'SUDHL10', { align: 'center', color: '#5b3bb0', size: 10 });
txt(176, 8, 'SUDHL8', { align: 'center', color: '#3fb39d', size: 10 });
txt(72, 103, 'RelA', { align: 'center', size: 9.5 });
txt(175, 103, 'RelA', { align: 'center', size: 9.5 });
txt(13, 50, 'RelB', { align: 'center', size: 9.5, rot: Math.PI / 2 });
txt(118, 50, 'RelB', { align: 'center', size: 9.5, rot: Math.PI / 2 });
arrow(222, 257, 60);
arrow(295, 332, 58);
arrow(375, 406, 58);
arrow(457, 508, 59);
arrow(570, 654, 61);
txt(267, 38, 'Control', { rot: Math.PI / 4, va: 'bottom', size: 9 });
txt(286, 38, 'Stained', { rot: Math.PI / 4, va: 'bottom', size: 9 });
txt(352, 38, 'Specific\nflourescence', { rot: Math.PI / 4, va: 'bottom', size: 9, lh: 9 });
txt(295, 73, 'Subtract\ncontrol', { size: 9, lh: 10 });
txt(377, 78, 'Repeat\nfor each\ncell line', { size: 9, lh: 10 });
txt(461, 73, 'Combine &\nstandardize', { size: 9, lh: 10 });
txt(577, 82, 'Repeat for\nanother marker\nPlot as 2D\ncontour plot', { size: 9, lh: 10 });
txt(258, 94, 'RelB (CL488)', { size: 9 });
txt(331, 94, 'RelB (CL488)', { size: 9 });
txt(415, 99, 'RelB (CL488)', { size: 9 });
txt(540, 107, 'RelB (z-score)', { size: 9, align: 'center' });
txt(718, 116, 'RelA (z-score)', { size: 9, align: 'center' });
txt(665, 62, 'RelB (z-score)', { size: 9, align: 'center', rot: Math.PI / 2 });
const schemNames = ['SUDHL8', 'RIVA', 'U2932', 'SUDHL10'];
const schemCols = ['#3fb39d', '#e8378c', '#222', '#6a3fb5'];
[[419, 427, 433, 446], [520, 527, 533, 547]].forEach(xs => xs.forEach((x, k) =>
  txt(x, 36, schemNames[k], { rot: 0.96, va: 'bottom', size: 9, color: schemCols[k] })));

legend(153, [289, 297, 305, 313], LEG2, false);
legend(93, [484, 494, 503, 513], LEG2, false);
legend(521, [250, 258, 266, 274], TXT, true);
legend(517, [470, 478, 486, 494], TXT, true);

txt(323, 127, 'RelA', { align: 'center', size: 9.5 });
txt(427, 127, 'RelB', { align: 'center', size: 9.5 });
sig(301, 319, 149, '**'); sig(301, 328, 158, '**'); sig(301, 341, 166, '*');
sig(401, 446, 143, '*'); sig(428, 446, 150, '**');
sig(713, 774, 142, '**', '#999'); sig(732, 774, 153, '***', '#222'); sig(752, 774, 163, '**', '#222');
txt(363, 359, 'BCL2', { align: 'center', size: 9.5 });
txt(406, 359, 'MCL1', { align: 'center', size: 9.5 });
txt(456, 359, 'BCLXL', { align: 'center', size: 9.5 });
sig(350, 380, 372, '****'); sig(350, 368, 380, '****'); sig(360, 380, 388, '**');
sig(396, 424, 370, '***'); sig(396, 413, 377, '****'); sig(396, 413, 384, '***');
sig(438, 470, 377, 'ns', '#777');
sig(712, 752, 347, '**', '#999'); sig(712, 770, 357, '***'); sig(730, 770, 366, '**'); sig(730, 752, 377, '**');
axisBreak(529, 292);
axisBreak(526, 509);

// ---------------- render ----------------
const chart = echarts.init(document.getElementById('chart'), null, { renderer: 'canvas' });
chart.setOption({
  animation: false,
  backgroundColor: '#fff',
  textStyle: { fontFamily: FONT },
  grid: grids,
  xAxis: xAxes,
  yAxis: yAxes,
  series: series,
  graphic: { elements: graphics }
});
</script>
</body>
</html>
